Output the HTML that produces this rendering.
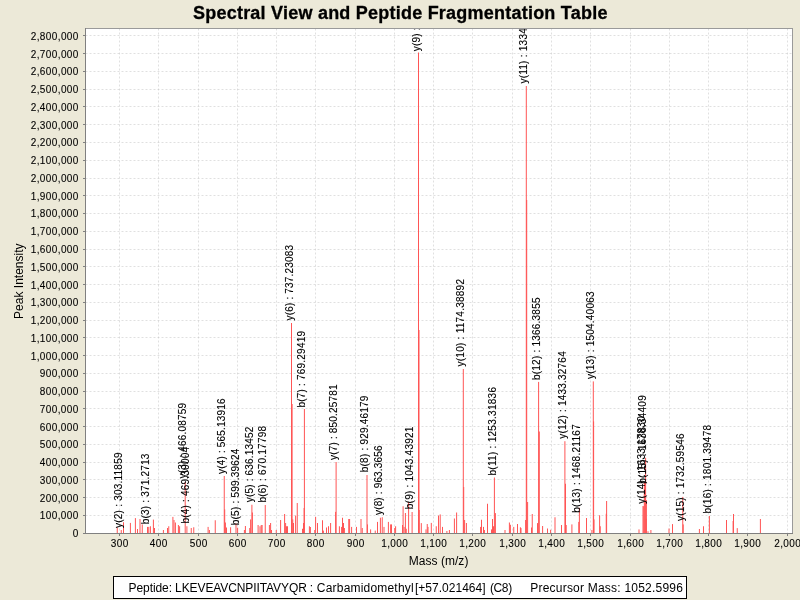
<!DOCTYPE html><html><head><meta charset="utf-8"><style>html,body{margin:0;padding:0;background:#ECE9D8;width:800px;height:600px;overflow:hidden}svg{display:block}text{font-family:"Liberation Sans",sans-serif}</style></head><body>
<svg style="will-change:transform" width="800" height="600" viewBox="0 0 800 600">
<rect x="0" y="0" width="800" height="600" fill="#ECE9D8"/>
<text x="193.0" y="18.8" font-size="18" font-weight="bold" fill="#000" stroke="#000" stroke-width="0.3" textLength="414.4" lengthAdjust="spacing">Spectral View and Peptide Fragmentation Table</text>
<rect x="85.5" y="28.5" width="707" height="505" fill="#fff"/>
<path d="M119.5 28.5V533.5M158.5 28.5V533.5M198.5 28.5V533.5M237.5 28.5V533.5M276.5 28.5V533.5M315.5 28.5V533.5M355.5 28.5V533.5M394.5 28.5V533.5M433.5 28.5V533.5M472.5 28.5V533.5M512.5 28.5V533.5M551.5 28.5V533.5M590.5 28.5V533.5M630.5 28.5V533.5M669.5 28.5V533.5M708.5 28.5V533.5M747.5 28.5V533.5M787.5 28.5V533.5M85.5 515.5H792.5M85.5 497.5H792.5M85.5 479.5H792.5M85.5 462.5H792.5M85.5 444.5H792.5M85.5 426.5H792.5M85.5 408.5H792.5M85.5 391.5H792.5M85.5 373.5H792.5M85.5 355.5H792.5M85.5 337.5H792.5M85.5 320.5H792.5M85.5 302.5H792.5M85.5 284.5H792.5M85.5 266.5H792.5M85.5 249.5H792.5M85.5 231.5H792.5M85.5 213.5H792.5M85.5 195.5H792.5M85.5 178.5H792.5M85.5 160.5H792.5M85.5 142.5H792.5M85.5 124.5H792.5M85.5 106.5H792.5M85.5 89.5H792.5M85.5 71.5H792.5M85.5 53.5H792.5M85.5 35.5H792.5" stroke="#c0c0c0" stroke-width="0.5" stroke-dasharray="2 2" fill="none"/>
<g fill="#FF5555"><rect x="116.75" y="527.50" width="1" height="6.00"/><rect x="120.75" y="530.00" width="1" height="3.50"/><rect x="123.00" y="522.25" width="1" height="11.25"/><rect x="129.90" y="522.90" width="1" height="10.60"/><rect x="134.90" y="518.10" width="1" height="15.40"/><rect x="137.00" y="529.00" width="1" height="4.50"/><rect x="139.50" y="519.00" width="1" height="14.50"/><rect x="141.75" y="524.40" width="1" height="9.10"/><rect x="147.00" y="526.90" width="1" height="6.60"/><rect x="148.25" y="526.90" width="1" height="6.60"/><rect x="149.90" y="526.25" width="1" height="7.25"/><rect x="152.90" y="519.60" width="1" height="13.90"/><rect x="154.00" y="528.00" width="1" height="5.50"/><rect x="162.90" y="530.00" width="1" height="3.50"/><rect x="167.00" y="528.00" width="1" height="5.50"/><rect x="168.25" y="526.25" width="1" height="7.25"/><rect x="172.40" y="516.90" width="1" height="16.60"/><rect x="173.50" y="520.00" width="1" height="13.50"/><rect x="174.90" y="522.50" width="1" height="11.00"/><rect x="177.90" y="525.00" width="1" height="8.50"/><rect x="179.10" y="526.25" width="1" height="7.25"/><rect x="184.70" y="482.00" width="1" height="51.50"/><rect x="186.40" y="526.25" width="1" height="7.25"/><rect x="190.75" y="528.00" width="1" height="5.50"/><rect x="193.25" y="527.25" width="1" height="6.25"/><rect x="207.60" y="526.90" width="1" height="6.60"/><rect x="208.90" y="530.00" width="1" height="3.50"/><rect x="214.75" y="520.25" width="1" height="13.25"/><rect x="223.75" y="476.00" width="1" height="57.50"/><rect x="224.90" y="522.50" width="1" height="11.00"/><rect x="226.00" y="527.50" width="1" height="6.00"/><rect x="230.10" y="527.25" width="1" height="6.25"/><rect x="235.50" y="523.30" width="1" height="10.20"/><rect x="237.10" y="527.70" width="1" height="5.80"/><rect x="243.90" y="530.00" width="1" height="3.50"/><rect x="244.90" y="526.00" width="1" height="7.50"/><rect x="249.25" y="528.00" width="1" height="5.50"/><rect x="250.10" y="519.40" width="1" height="14.10"/><rect x="251.40" y="504.75" width="1" height="28.75"/><rect x="251.90" y="512.50" width="1" height="21.00"/><rect x="257.60" y="525.00" width="1" height="8.50"/><rect x="259.50" y="526.25" width="1" height="7.25"/><rect x="260.75" y="525.00" width="1" height="8.50"/><rect x="261.60" y="525.00" width="1" height="8.50"/><rect x="264.75" y="505.00" width="1" height="28.50"/><rect x="268.90" y="525.00" width="1" height="8.50"/><rect x="270.10" y="523.00" width="1" height="10.50"/><rect x="271.00" y="530.00" width="1" height="3.50"/><rect x="275.75" y="530.00" width="1" height="3.50"/><rect x="280.10" y="520.00" width="1" height="13.50"/><rect x="284.10" y="514.00" width="1" height="19.50"/><rect x="285.10" y="523.00" width="1" height="10.50"/><rect x="286.00" y="526.25" width="1" height="7.25"/><rect x="287.00" y="526.25" width="1" height="7.25"/><rect x="291.00" y="323.00" width="1" height="210.50"/><rect x="291.60" y="404.00" width="1" height="129.50"/><rect x="292.25" y="519.40" width="1" height="14.10"/><rect x="293.00" y="523.00" width="1" height="10.50"/><rect x="295.10" y="515.60" width="1" height="17.90"/><rect x="296.75" y="503.00" width="1" height="30.50"/><rect x="302.00" y="528.75" width="1" height="4.75"/><rect x="303.00" y="523.00" width="1" height="10.50"/><rect x="303.90" y="409.00" width="1" height="124.50"/><rect x="303.60" y="508.00" width="1" height="25.50"/><rect x="308.90" y="526.25" width="1" height="7.25"/><rect x="309.90" y="527.00" width="1" height="6.50"/><rect x="314.25" y="530.00" width="1" height="3.50"/><rect x="315.10" y="516.90" width="1" height="16.60"/><rect x="317.00" y="523.00" width="1" height="10.50"/><rect x="322.00" y="520.25" width="1" height="13.25"/><rect x="322.90" y="530.60" width="1" height="2.90"/><rect x="326.00" y="527.50" width="1" height="6.00"/><rect x="328.00" y="526.25" width="1" height="7.25"/><rect x="330.10" y="523.00" width="1" height="10.50"/><rect x="335.60" y="462.00" width="1" height="71.50"/><rect x="335.10" y="511.90" width="1" height="21.60"/><rect x="338.90" y="526.25" width="1" height="7.25"/><rect x="341.10" y="526.90" width="1" height="6.60"/><rect x="342.00" y="517.75" width="1" height="15.75"/><rect x="343.00" y="523.00" width="1" height="10.50"/><rect x="343.90" y="528.00" width="1" height="5.50"/><rect x="348.25" y="519.00" width="1" height="14.50"/><rect x="349.10" y="519.00" width="1" height="14.50"/><rect x="351.10" y="526.90" width="1" height="6.60"/><rect x="356.00" y="526.90" width="1" height="6.60"/><rect x="360.50" y="519.00" width="1" height="14.50"/><rect x="361.75" y="528.00" width="1" height="5.50"/><rect x="366.50" y="475.00" width="1" height="58.50"/><rect x="367.00" y="524.40" width="1" height="9.10"/><rect x="370.10" y="529.40" width="1" height="4.10"/><rect x="374.75" y="530.60" width="1" height="2.90"/><rect x="377.00" y="521.90" width="1" height="11.60"/><rect x="379.90" y="517.75" width="1" height="15.75"/><rect x="381.75" y="517.25" width="1" height="16.25"/><rect x="383.50" y="526.90" width="1" height="6.60"/><rect x="387.90" y="521.90" width="1" height="11.60"/><rect x="390.10" y="524.40" width="1" height="9.10"/><rect x="391.00" y="524.40" width="1" height="9.10"/><rect x="394.25" y="528.00" width="1" height="5.50"/><rect x="395.10" y="526.25" width="1" height="7.25"/><rect x="402.00" y="525.00" width="1" height="8.50"/><rect x="402.60" y="506.25" width="1" height="27.25"/><rect x="403.60" y="526.90" width="1" height="6.60"/><rect x="404.90" y="513.00" width="1" height="20.50"/><rect x="405.75" y="528.75" width="1" height="4.75"/><rect x="408.10" y="502.00" width="1" height="31.50"/><rect x="411.60" y="512.00" width="1" height="21.50"/><rect x="418.00" y="52.50" width="1" height="481.00"/><rect x="418.50" y="330.00" width="1" height="203.50"/><rect x="418.70" y="510.00" width="1" height="23.50"/><rect x="420.80" y="523.10" width="1" height="10.40"/><rect x="425.50" y="529.40" width="1" height="4.10"/><rect x="426.75" y="524.00" width="1" height="9.50"/><rect x="427.50" y="526.90" width="1" height="6.60"/><rect x="430.80" y="522.90" width="1" height="10.60"/><rect x="435.75" y="526.25" width="1" height="7.25"/><rect x="438.00" y="515.60" width="1" height="17.90"/><rect x="439.70" y="514.40" width="1" height="19.10"/><rect x="442.00" y="526.90" width="1" height="6.60"/><rect x="446.40" y="531.00" width="1" height="2.50"/><rect x="448.90" y="530.00" width="1" height="3.50"/><rect x="453.90" y="518.50" width="1" height="15.00"/><rect x="456.10" y="512.50" width="1" height="21.00"/><rect x="462.80" y="369.00" width="1" height="164.50"/><rect x="463.20" y="487.00" width="1" height="46.50"/><rect x="464.10" y="520.00" width="1" height="13.50"/><rect x="465.90" y="523.00" width="1" height="10.50"/><rect x="480.10" y="526.90" width="1" height="6.60"/><rect x="481.00" y="519.75" width="1" height="13.75"/><rect x="483.00" y="526.90" width="1" height="6.60"/><rect x="483.90" y="530.00" width="1" height="3.50"/><rect x="487.00" y="503.75" width="1" height="29.75"/><rect x="491.00" y="529.40" width="1" height="4.10"/><rect x="492.00" y="519.00" width="1" height="14.50"/><rect x="493.00" y="526.25" width="1" height="7.25"/><rect x="493.90" y="477.50" width="1" height="56.00"/><rect x="494.90" y="513.10" width="1" height="20.40"/><rect x="504.50" y="530.00" width="1" height="3.50"/><rect x="508.90" y="522.50" width="1" height="11.00"/><rect x="509.90" y="524.75" width="1" height="8.75"/><rect x="513.25" y="526.90" width="1" height="6.60"/><rect x="517.00" y="524.00" width="1" height="9.50"/><rect x="519.90" y="527.25" width="1" height="6.25"/><rect x="520.50" y="528.10" width="1" height="5.40"/><rect x="525.10" y="520.00" width="1" height="13.50"/><rect x="525.80" y="86.00" width="1" height="447.50"/><rect x="526.20" y="200.00" width="1" height="333.50"/><rect x="531.00" y="527.50" width="1" height="6.00"/><rect x="531.75" y="514.00" width="1" height="19.50"/><rect x="537.00" y="523.10" width="1" height="10.40"/><rect x="538.10" y="381.90" width="1" height="151.60"/><rect x="538.80" y="431.50" width="1" height="102.00"/><rect x="542.10" y="526.00" width="1" height="7.50"/><rect x="547.00" y="528.50" width="1" height="5.00"/><rect x="550.10" y="529.75" width="1" height="3.75"/><rect x="554.50" y="517.25" width="1" height="16.25"/><rect x="561.00" y="525.00" width="1" height="8.50"/><rect x="564.40" y="441.20" width="1" height="92.30"/><rect x="565.00" y="483.75" width="1" height="49.75"/><rect x="571.40" y="524.40" width="1" height="9.10"/><rect x="578.25" y="521.90" width="1" height="11.60"/><rect x="578.90" y="507.75" width="1" height="25.75"/><rect x="586.00" y="518.00" width="1" height="15.50"/><rect x="591.40" y="530.00" width="1" height="3.50"/><rect x="592.80" y="381.40" width="1" height="152.10"/><rect x="593.10" y="421.40" width="1" height="112.10"/><rect x="593.50" y="519.40" width="1" height="14.10"/><rect x="599.10" y="515.25" width="1" height="18.25"/><rect x="599.75" y="526.25" width="1" height="7.25"/><rect x="606.10" y="501.00" width="1" height="32.50"/><rect x="605.75" y="513.75" width="1" height="19.75"/><rect x="638.50" y="529.40" width="1" height="4.10"/><rect x="643.25" y="506.25" width="1" height="27.25"/><rect x="643.80" y="482.60" width="1" height="50.90"/><rect x="645.10" y="457.80" width="1" height="75.70"/><rect x="645.70" y="518.75" width="1" height="14.75"/><rect x="647.50" y="531.25" width="1" height="2.25"/><rect x="650.40" y="530.00" width="1" height="3.50"/><rect x="668.50" y="528.50" width="1" height="5.00"/><rect x="672.00" y="524.10" width="1" height="9.40"/><rect x="682.25" y="496.90" width="1" height="36.60"/><rect x="682.70" y="524.40" width="1" height="9.10"/><rect x="698.90" y="529.00" width="1" height="4.50"/><rect x="703.00" y="526.25" width="1" height="7.25"/><rect x="708.90" y="516.00" width="1" height="17.50"/><rect x="726.00" y="520.00" width="1" height="13.50"/><rect x="642.50" y="506.00" width="1" height="27.50"/><rect x="644.40" y="483.00" width="1" height="50.50"/><rect x="645.90" y="500.00" width="1" height="33.50"/><rect x="527.10" y="502.00" width="1" height="31.50"/><rect x="565.70" y="525.00" width="1" height="8.50"/><rect x="224.20" y="509.40" width="1" height="24.10"/><rect x="732.60" y="521.00" width="1" height="12.50"/><rect x="733.00" y="514.00" width="1" height="19.50"/><rect x="736.75" y="528.10" width="1" height="5.40"/><rect x="759.90" y="519.00" width="1" height="14.50"/></g>
<clipPath id="c"><rect x="85.5" y="28.5" width="707" height="505"/></clipPath>
<g clip-path="url(#c)" font-size="10" fill="#000" stroke="#000" stroke-width="0.12"><text transform="translate(122.20 528.00) rotate(-90)" textLength="75.5" lengthAdjust="spacing">y(2) : 303.11859</text><text transform="translate(148.80 524.20) rotate(-90)" textLength="70.5" lengthAdjust="spacing">b(3) : 371.2713</text><text transform="translate(186.20 478.50) rotate(-90)" textLength="75.5" lengthAdjust="spacing">y(3) : 466.08759</text><text transform="translate(188.90 523.50) rotate(-90)" textLength="76.5" lengthAdjust="spacing">b(4) : 469.30004</text><text transform="translate(225.20 474.00) rotate(-90)" textLength="75.5" lengthAdjust="spacing">y(4) : 565.13916</text><text transform="translate(238.90 525.20) rotate(-90)" textLength="76.5" lengthAdjust="spacing">b(5) : 599.39624</text><text transform="translate(253.00 502.20) rotate(-90)" textLength="75.5" lengthAdjust="spacing">y(5) : 636.13452</text><text transform="translate(266.30 502.50) rotate(-90)" textLength="76.5" lengthAdjust="spacing">b(6) : 670.17798</text><text transform="translate(292.50 320.50) rotate(-90)" textLength="75.5" lengthAdjust="spacing">y(6) : 737.23083</text><text transform="translate(305.30 407.50) rotate(-90)" textLength="76.5" lengthAdjust="spacing">b(7) : 769.29419</text><text transform="translate(336.90 460.00) rotate(-90)" textLength="75.5" lengthAdjust="spacing">y(7) : 850.25781</text><text transform="translate(368.10 472.20) rotate(-90)" textLength="76.5" lengthAdjust="spacing">b(8) : 929.46179</text><text transform="translate(381.50 515.00) rotate(-90)" textLength="69.5" lengthAdjust="spacing">y(8) : 963.3656</text><text transform="translate(413.10 509.20) rotate(-90)" textLength="82.5" lengthAdjust="spacing">b(9) : 1043.43921</text><text transform="translate(419.70 51.30) rotate(-90)" textLength="81.5" lengthAdjust="spacing">y(9) : 1063.52124</text><text transform="translate(464.40 366.50) rotate(-90)" textLength="87.5" lengthAdjust="spacing">y(10) : 1174.38892</text><text transform="translate(495.50 475.50) rotate(-90)" textLength="88.5" lengthAdjust="spacing">b(11) : 1253.31836</text><text transform="translate(527.20 83.60) rotate(-90)" textLength="87.5" lengthAdjust="spacing">y(11) : 1334.64246</text><text transform="translate(539.80 380.00) rotate(-90)" textLength="82.5" lengthAdjust="spacing">b(12) : 1366.3855</text><text transform="translate(566.10 438.80) rotate(-90)" textLength="87.5" lengthAdjust="spacing">y(12) : 1433.32764</text><text transform="translate(579.80 512.80) rotate(-90)" textLength="88.5" lengthAdjust="spacing">b(13) : 1468.21167</text><text transform="translate(594.00 379.00) rotate(-90)" textLength="87.5" lengthAdjust="spacing">y(13) : 1504.40063</text><text transform="translate(644.80 503.80) rotate(-90)" textLength="87.5" lengthAdjust="spacing">y(14) : 1633.17830</text><text transform="translate(646.40 483.80) rotate(-90)" textLength="88.5" lengthAdjust="spacing">b(15) : 1638.34409</text><text transform="translate(683.80 521.00) rotate(-90)" textLength="87.5" lengthAdjust="spacing">y(15) : 1732.59546</text><text transform="translate(710.50 513.50) rotate(-90)" textLength="88.5" lengthAdjust="spacing">b(16) : 1801.39478</text></g>
<path d="M85.5 28.5H792.5V533.5" stroke="#9a9a9a" stroke-width="1" fill="none" shape-rendering="crispEdges"/>
<path d="M85.5 28V534M85 533.5H793" stroke="#808080" stroke-width="1" fill="none" shape-rendering="crispEdges"/>
<path d="M119.5 534V536M158.5 534V536M198.5 534V536M237.5 534V536M276.5 534V536M315.5 534V536M355.5 534V536M394.5 534V536M433.5 534V536M472.5 534V536M512.5 534V536M551.5 534V536M590.5 534V536M630.5 534V536M669.5 534V536M708.5 534V536M747.5 534V536M787.5 534V536M83 533.5H85M83 515.5H85M83 497.5H85M83 479.5H85M83 462.5H85M83 444.5H85M83 426.5H85M83 408.5H85M83 391.5H85M83 373.5H85M83 355.5H85M83 337.5H85M83 320.5H85M83 302.5H85M83 284.5H85M83 266.5H85M83 249.5H85M83 231.5H85M83 213.5H85M83 195.5H85M83 178.5H85M83 160.5H85M83 142.5H85M83 124.5H85M83 106.5H85M83 89.5H85M83 71.5H85M83 53.5H85M83 35.5H85" stroke="#808080" stroke-width="1" fill="none" shape-rendering="crispEdges"/>
<g font-size="10" fill="#000" stroke="#000" stroke-width="0.1"><text x="119.5" y="547" text-anchor="middle" textLength="17.5" lengthAdjust="spacing">300</text><text x="158.5" y="547" text-anchor="middle" textLength="17.5" lengthAdjust="spacing">400</text><text x="198.5" y="547" text-anchor="middle" textLength="17.5" lengthAdjust="spacing">500</text><text x="237.5" y="547" text-anchor="middle" textLength="17.5" lengthAdjust="spacing">600</text><text x="276.5" y="547" text-anchor="middle" textLength="17.5" lengthAdjust="spacing">700</text><text x="315.5" y="547" text-anchor="middle" textLength="17.5" lengthAdjust="spacing">800</text><text x="355.5" y="547" text-anchor="middle" textLength="17.5" lengthAdjust="spacing">900</text><text x="394.5" y="547" text-anchor="middle" textLength="26.5" lengthAdjust="spacing">1,000</text><text x="433.5" y="547" text-anchor="middle" textLength="26.5" lengthAdjust="spacing">1,100</text><text x="472.5" y="547" text-anchor="middle" textLength="26.5" lengthAdjust="spacing">1,200</text><text x="512.5" y="547" text-anchor="middle" textLength="26.5" lengthAdjust="spacing">1,300</text><text x="551.5" y="547" text-anchor="middle" textLength="26.5" lengthAdjust="spacing">1,400</text><text x="590.5" y="547" text-anchor="middle" textLength="26.5" lengthAdjust="spacing">1,500</text><text x="630.5" y="547" text-anchor="middle" textLength="26.5" lengthAdjust="spacing">1,600</text><text x="669.5" y="547" text-anchor="middle" textLength="26.5" lengthAdjust="spacing">1,700</text><text x="708.5" y="547" text-anchor="middle" textLength="26.5" lengthAdjust="spacing">1,800</text><text x="747.5" y="547" text-anchor="middle" textLength="26.5" lengthAdjust="spacing">1,900</text><text x="787.5" y="547" text-anchor="middle" textLength="26.5" lengthAdjust="spacing">2,000</text><text x="78.4" y="537.15" text-anchor="end" textLength="5.7" lengthAdjust="spacing">0</text><text x="78.4" y="519.39" text-anchor="end" textLength="38.7" lengthAdjust="spacing">100,000</text><text x="78.4" y="501.63" text-anchor="end" textLength="38.7" lengthAdjust="spacing">200,000</text><text x="78.4" y="483.87" text-anchor="end" textLength="38.7" lengthAdjust="spacing">300,000</text><text x="78.4" y="466.11" text-anchor="end" textLength="38.7" lengthAdjust="spacing">400,000</text><text x="78.4" y="448.36" text-anchor="end" textLength="38.7" lengthAdjust="spacing">500,000</text><text x="78.4" y="430.60" text-anchor="end" textLength="38.7" lengthAdjust="spacing">600,000</text><text x="78.4" y="412.84" text-anchor="end" textLength="38.7" lengthAdjust="spacing">700,000</text><text x="78.4" y="395.08" text-anchor="end" textLength="38.7" lengthAdjust="spacing">800,000</text><text x="78.4" y="377.32" text-anchor="end" textLength="38.7" lengthAdjust="spacing">900,000</text><text x="78.4" y="359.56" text-anchor="end" textLength="47.7" lengthAdjust="spacing">1,000,000</text><text x="78.4" y="341.80" text-anchor="end" textLength="47.7" lengthAdjust="spacing">1,100,000</text><text x="78.4" y="324.04" text-anchor="end" textLength="47.7" lengthAdjust="spacing">1,200,000</text><text x="78.4" y="306.28" text-anchor="end" textLength="47.7" lengthAdjust="spacing">1,300,000</text><text x="78.4" y="288.52" text-anchor="end" textLength="47.7" lengthAdjust="spacing">1,400,000</text><text x="78.4" y="270.77" text-anchor="end" textLength="47.7" lengthAdjust="spacing">1,500,000</text><text x="78.4" y="253.01" text-anchor="end" textLength="47.7" lengthAdjust="spacing">1,600,000</text><text x="78.4" y="235.25" text-anchor="end" textLength="47.7" lengthAdjust="spacing">1,700,000</text><text x="78.4" y="217.49" text-anchor="end" textLength="47.7" lengthAdjust="spacing">1,800,000</text><text x="78.4" y="199.73" text-anchor="end" textLength="47.7" lengthAdjust="spacing">1,900,000</text><text x="78.4" y="181.97" text-anchor="end" textLength="47.7" lengthAdjust="spacing">2,000,000</text><text x="78.4" y="164.21" text-anchor="end" textLength="47.7" lengthAdjust="spacing">2,100,000</text><text x="78.4" y="146.45" text-anchor="end" textLength="47.7" lengthAdjust="spacing">2,200,000</text><text x="78.4" y="128.69" text-anchor="end" textLength="47.7" lengthAdjust="spacing">2,300,000</text><text x="78.4" y="110.93" text-anchor="end" textLength="47.7" lengthAdjust="spacing">2,400,000</text><text x="78.4" y="93.18" text-anchor="end" textLength="47.7" lengthAdjust="spacing">2,500,000</text><text x="78.4" y="75.42" text-anchor="end" textLength="47.7" lengthAdjust="spacing">2,600,000</text><text x="78.4" y="57.66" text-anchor="end" textLength="47.7" lengthAdjust="spacing">2,700,000</text><text x="78.4" y="39.90" text-anchor="end" textLength="47.7" lengthAdjust="spacing">2,800,000</text></g>
<text x="408.7" y="565" font-size="12" fill="#000" textLength="59.7" lengthAdjust="spacing">Mass (m/z)</text>
<text transform="translate(22.8 318.9) rotate(-90)" font-size="12" textLength="75.4" lengthAdjust="spacing" fill="#000">Peak Intensity</text>
<rect x="113.5" y="576.5" width="573" height="22" fill="#fff" stroke="#000" stroke-width="1" shape-rendering="crispEdges"/>
<text x="128.6" y="592" font-size="12" fill="#000" textLength="178.24" lengthAdjust="spacing">Peptide: LKEVEAVCNPIITAVYQR</text>
<text x="309.8" y="592" font-size="12" fill="#000" textLength="103.81" lengthAdjust="spacing">: Carbamidomethyl</text>
<text x="414.9" y="592" font-size="12" fill="#000" textLength="70.7" lengthAdjust="spacing">[+57.021464]</text>
<text x="489.9" y="592" font-size="12" fill="#000" textLength="22.23" lengthAdjust="spacing">(C8)</text>
<text x="530.25" y="592" font-size="12" fill="#000" textLength="152.66" lengthAdjust="spacing">Precursor Mass: 1052.5996</text>
</svg></body></html>
